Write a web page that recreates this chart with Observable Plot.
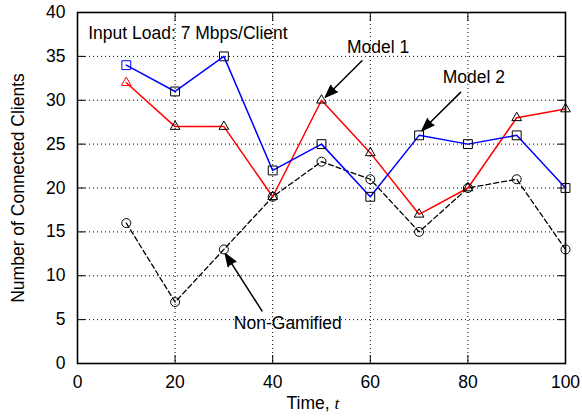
<!DOCTYPE html>
<html><head><meta charset="utf-8">
<script src="https://cdn.jsdelivr.net/npm/d3@7"></script>
<script src="https://cdn.jsdelivr.net/npm/@observablehq/plot@0.6"></script>
<style>body{margin:0;background:#fff}</style>
</head><body><div id="chart"></div>
<script>
const time = [10, 20, 30, 40, 50, 60, 70, 80, 90, 100];
const model1 = [32, 27, 27, 19, 30, 24, 17, 20, 28, 29];
const model2 = [34, 31, 35, 22, 25, 19, 26, 25, 26, 20];
const nonGamified = [16, 7, 13, 19, 23, 21, 15, 20, 21, 13];
const xTicks = [0, 20, 40, 60, 80, 100];
const yTicks = [0, 5, 10, 15, 20, 25, 30, 35, 40];
const annotationText = ["Model 1", "Model 2", "Non-Gamified"];
const annotationX = [61.6, 81.2, 43.1];
const annotationY = [36.0, 32.6, 4.6];
const arrowFromX = [58.3, 78.5, 37.8];
const arrowFromY = [34.5, 30.9, 6.0];
const arrowToX = [50.8, 70.6, 30.3];
const arrowToY = [30.35, 26.55, 12.5];
const titleText = "Input Load: 7 Mbps/Client";

const rows = (vals, s, c) => time.map((t, i) => ({t, v: vals[i], series: s, mcolor: i === 0 ? c : "black"}));
const m1 = rows(model1, "Model 1", "red");
const m2 = rows(model2, "Model 2", "blue");
const ng = rows(nonGamified, "Non-Gamified", "black");
const annotations = annotationText.map((text, i) => ({text, x: annotationX[i], y: annotationY[i]}));
const arrows = arrowFromX.map((x1, i) => ({x1, y1: arrowFromY[i], x2: arrowToX[i], y2: arrowToY[i]}));

const grid = {stroke: "black", strokeOpacity: 1, strokeDasharray: "1,3", strokeWidth: 1};
const blank = () => "";

const chart = Plot.plot({
  width: 582, height: 418,
  marginLeft: 77, marginRight: 17, marginTop: 12, marginBottom: 55,
  style: {fontFamily: "'Liberation Sans', Arial, sans-serif", fontSize: "17.5px", background: "white", color: "black"},
  x: {domain: [0, 100]},
  y: {domain: [0, 40]},
  color: {type: "identity"},
  marks: [
    Plot.gridX(xTicks.slice(1, -1), grid),
    Plot.gridY(yTicks.slice(1, -1), grid),
    Plot.axisX(xTicks, {anchor: "bottom", tickSize: 0, tickPadding: 12, label: null}),
    Plot.axisY(yTicks, {anchor: "left", tickSize: 0, tickPadding: 12, label: null}),
    Plot.axisX(xTicks, {anchor: "bottom", tickSize: -8, tickFormat: blank, label: null, strokeWidth: 1}),
    Plot.axisX(xTicks, {anchor: "top", tickSize: -8, tickFormat: blank, label: null, strokeWidth: 1}),
    Plot.axisY(yTicks, {anchor: "left", tickSize: -8, tickFormat: blank, label: null, strokeWidth: 1}),
    Plot.axisY(yTicks, {anchor: "right", tickSize: -8, tickFormat: blank, label: null, strokeWidth: 1}),
    Plot.lineY(ng, {x: "t", y: "v", stroke: "black", strokeWidth: 1.3, strokeDasharray: "5,3"}),
    Plot.lineY(m1, {x: "t", y: "v", stroke: "red", strokeWidth: 1.5}),
    Plot.lineY(m2, {x: "t", y: "v", stroke: "blue", strokeWidth: 1.5}),
    Plot.dot(ng, {x: "t", y: "v", symbol: "circle", r: 4.5, stroke: "mcolor", fill: "none", strokeWidth: 1}),
    Plot.dot(m1, {x: "t", y: "v", symbol: "triangle", r: 3.6, stroke: "mcolor", fill: "none", strokeWidth: 1}),
    Plot.dot(m2, {x: "t", y: "v", symbol: "square", r: 5, stroke: "mcolor", fill: "none", strokeWidth: 1}),
    Plot.frame({stroke: "black", strokeWidth: 1.6}),
    Plot.arrow(arrows, {x1: "x1", y1: "y1", x2: "x2", y2: "y2", stroke: "black", fill: "black", strokeWidth: 1.5, headLength: 13, headAngle: 40}),
    Plot.text(annotations, {x: "x", y: "y", text: "text", fill: "black"}),
    Plot.text([titleText], {x: 2.2, y: 37.6, text: d => d, textAnchor: "start", fill: "black"}),
    Plot.text(["Number of Connected Clients"], {frameAnchor: "left", text: d => d, rotate: -90, dx: -59, textAnchor: "middle", lineAnchor: "middle", fill: "black"}),
    Plot.text(["Time, "], {frameAnchor: "bottom", text: d => d, textAnchor: "end", dx: 13, dy: 45, fill: "black"}),
    Plot.text(["t"], {frameAnchor: "bottom", text: d => d, textAnchor: "start", dx: 13, dy: 45, fill: "black", fontStyle: "italic", fontFamily: "'Liberation Serif', serif"})
  ]
});
document.getElementById("chart").append(chart);
</script>
</body></html>
